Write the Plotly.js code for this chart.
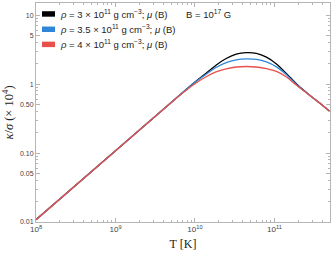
<!DOCTYPE html>
<html><head><meta charset="utf-8">
<script src="https://cdn.plot.ly/plotly-3.0.1.min.js"></script>
<style>html,body{margin:0;padding:0;background:#fff}#c{width:332px;height:254px}</style>
</head><body><div id="c"></div>
<script>
const T = [1e8, 5.74e9, 7.69e9, 1.03e10, 1.38e10, 1.84e10, 2.47e10, 3.30e10, 4.42e10, 5.92e10, 7.92e10, 1.06e11, 1.42e11, 1.90e11, 2.54e11, 3.71e11, 5e11];
const kappaRho3   = [0.0108, 0.62, 0.83, 1.10, 1.43, 1.88, 2.35, 2.72, 2.86, 2.79, 2.46, 1.96, 1.42, 1.00, 0.75, 0.53, 0.40];
const kappaRho35  = [0.0108, 0.62, 0.83, 1.09, 1.39, 1.74, 2.05, 2.24, 2.32, 2.28, 2.10, 1.78, 1.37, 0.98, 0.75, 0.53, 0.40];
const kappaRho4   = [0.0108, 0.62, 0.81, 1.04, 1.28, 1.50, 1.66, 1.77, 1.80, 1.77, 1.68, 1.53, 1.27, 0.96, 0.74, 0.53, 0.40];
const seriesNames = ["<i>ρ</i> = 3 × 10<sup>11</sup> g cm<sup>−3</sup>; <i>μ</i> (B)",
                     "<i>ρ</i> = 3.5 × 10<sup>11</sup> g cm<sup>−3</sup>; <i>μ</i> (B)",
                     "<i>ρ</i> = 4 × 10<sup>11</sup> g cm<sup>−3</sup>; <i>μ</i> (B)"];
const seriesColors = ["#000000", "#2f86d8", "#e8514b"];
const yTickVals = [0.01, 0.05, 0.1, 0.5, 1, 5, 10];
const yTickText = ["0.01", "0.05", "0.10", "0.50", "1", "5", "10"];
const fieldLabel = "B = 10<sup>17</sup> G";

const ys = [kappaRho3, kappaRho35, kappaRho4];
const traces = ys.map((y, i) => ({
  x: T, y: y, type: 'scatter', mode: 'lines', name: seriesNames[i],
  line: {color: seriesColors[i], width: 1.3, shape: 'spline', smoothing: 0.5},
  showlegend: false, hoverinfo: 'skip'
}));

const axisCol = '#b5b5b5';
const shapes = [], annotations = [];
const rowY = [0.950, 0.880, 0.811];
seriesNames.forEach((n, i) => {
  shapes.push({type: 'rect', xref: 'paper', yref: 'paper', x0: 0.0204, x1: 0.0646,
    y0: rowY[i] - 0.0125, y1: rowY[i] + 0.0125, fillcolor: seriesColors[i], line: {width: 0}});
  annotations.push({xref: 'paper', yref: 'paper', x: 0.0748, y: rowY[i], xanchor: 'left', yanchor: 'middle',
    text: n, showarrow: false, font: {family: 'Liberation Sans, Arial, sans-serif', size: 9.5, color: '#222'}});
});
annotations.push({xref: 'paper', yref: 'paper', x: 0.503, y: 0.950, xanchor: 'left', yanchor: 'middle',
  text: fieldLabel, showarrow: false, font: {family: 'Liberation Sans, Arial, sans-serif', size: 9.5, color: '#222'}});

const layout = {
  width: 332, height: 254,
  margin: {l: 36, r: 2, t: 3, b: 32},
  paper_bgcolor: '#fff', plot_bgcolor: '#fff',
  showlegend: false,
  font: {family: 'Liberation Sans, Arial, sans-serif', size: 7, color: '#444'},
  xaxis: {
    type: 'log', range: [8, Math.log10(5e11)], dtick: 1, exponentformat: 'power',
    showgrid: false, zeroline: false, showline: true, linecolor: axisCol, linewidth: 1, mirror: 'ticks',
    ticks: 'inside', ticklen: 4, tickcolor: axisCol, tickwidth: 1,
    minor: {ticks: 'inside', ticklen: 2, tickcolor: axisCol, dtick: 'D1', showgrid: false},
    tickfont: {size: 6.5, color: '#444'},
    title: {text: 'T [K]', font: {family: 'Liberation Serif, Times New Roman, serif', size: 12, color: '#222'}, standoff: 6}
  },
  yaxis: {
    type: 'log', range: [-2, Math.log10(15)], tickmode: 'array', tickvals: yTickVals, ticktext: yTickText,
    showgrid: false, zeroline: false, showline: true, linecolor: axisCol, linewidth: 1, mirror: 'ticks',
    ticks: 'inside', ticklen: 4, tickcolor: axisCol, tickwidth: 1,
    minor: {ticks: 'inside', ticklen: 2, tickcolor: axisCol, dtick: 'D1', showgrid: false},
    tickfont: {size: 7, color: '#444'},
    title: {text: '<i>κ</i>/<i>σ</i> (× 10<sup>4</sup>)', font: {family: 'Liberation Serif, Times New Roman, serif', size: 12.5, color: '#222'}, standoff: 3}
  },
  shapes: shapes, annotations: annotations
};
Plotly.newPlot('c', traces, layout, {displayModeBar: false, staticPlot: true});
</script></body></html>
